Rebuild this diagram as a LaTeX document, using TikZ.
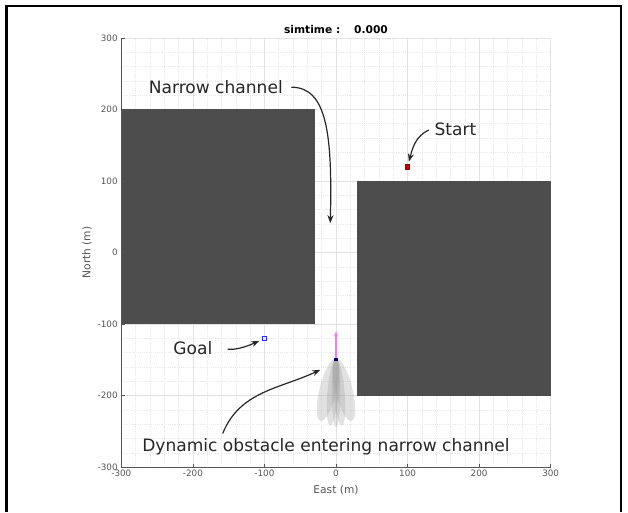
\documentclass[tikz,border=0pt]{standalone}
\usepackage{fontspec}
\setmainfont{DejaVu Sans}
\usetikzlibrary{arrows.meta, calc}

\definecolor{obst}{HTML}{4D4D4D}
\definecolor{gridmaj}{HTML}{E2E2E2}
\definecolor{gridmin}{HTML}{EAEAEA}
\definecolor{axisgray}{HTML}{555555}
\definecolor{heading}{HTML}{F07CF0}

\tikzset{
  note/.style={font=\fontsize{12.8}{15}\selectfont, text=black!85},
  ticklbl/.style={font=\fontsize{6.6}{8}\selectfont, text=axisgray},
  axlbl/.style={font=\fontsize{8}{10}\selectfont, text=axisgray},
  callout/.style={-{Stealth[length=6pt,width=4.5pt]}, line width=0.9pt, black!85},
}

\begin{document}
\begin{tikzpicture}[x=0.5366pt, y=0.5366pt]
  \useasboundingbox (-469.6,-362.7) rectangle (408.1,352.9);
  % outer frame, open at the bottom
  \draw[line width=1.8pt] (-460.5,-362.7) -- (-460.5,344.5) -- (398.3,344.5) -- (398.3,-362.7);

  % grid
  \draw[gridmin, densely dotted, line width=0.4pt] (-300,-300) grid[step=20] (300,300);
  \draw[gridmaj, line width=0.5pt] (-300,-300) grid[step=100] (300,300);

  % static obstacles
  \fill[obst] (-300,-100) rectangle (-30,200);
  \fill[obst] (30,-200) rectangle (300,100);

  % axes
  \draw[axisgray, line width=0.5pt] (-300,300) -- (-300,-300) -- (300,-300);
  \foreach \v in {-300,-200,...,300} {
    \draw[axisgray, line width=0.5pt] (\v,-300) -- ++(0,5);
    \draw[axisgray, line width=0.5pt] (-300,\v) -- ++(5,0);
    \node[ticklbl, below, inner sep=2pt] (xt\v) at (\v,-300) {\v};
    \node[ticklbl, left, inner sep=2.6pt] (yt\v) at (-300,\v) {\v};
  }
  \node[axlbl] (east) at (0,-332) {East (m)};
  \node[axlbl, rotate=90] (north) at (-348,0) {North (m)};
  \node[font=\bfseries\fontsize{8}{10}\selectfont] (title) at (0,311) {simtime :\hspace{1.3em}0.000};

  % start and goal
  \node[fill=red!80!black, draw=red!55!black, minimum size=3.2pt, inner sep=0pt] (start) at (100,120) {};
  \node[draw=blue!85, line width=0.6pt, minimum size=3.6pt, inner sep=0pt] (goal) at (-100,-120) {};

  % dynamic obstacle and its spread
  \foreach \a/\rx/\ry in {-14/12/45,14/12/45,-5/8/47,5/8/47,0/6/48}
    \fill[gray!75, opacity=0.3, rotate around={\a:(0,-148)}] (0,-148-\ry) ellipse [x radius=\rx, y radius=\ry];
  \node[fill=blue!45!black, minimum size=2.4pt, inner sep=0pt] (vessel) at (0,-150) {};
  \coordinate (vhead) at (0,-110);
  \draw[heading, line width=1.2pt, -{Stealth[length=4pt,width=3pt]}] (vessel) -- (vhead);

  % callouts
  \node[note] (chan) at (-168,231) {Narrow channel};
  \coordinate (chanpt) at (-8,41);
  \draw[callout, shorten <=3pt] (chan.east) .. controls +(55,0) and +(3,125) .. (chanpt);

  \node[note] (starttxt) at (167,172) {Start};
  \draw[callout, shorten <=1pt, shorten >=2pt] (starttxt.west) to[out=205, in=75] (start);

  \node[note] (goaltxt) at (-200,-133) {Goal};
  \draw[callout, shorten <=8pt, shorten >=2pt] (goaltxt.east) to[out=-8, in=205] (goal);

  \node[note] (dyntxt) at (-14,-271) {Dynamic obstacle entering narrow channel};
  \coordinate (dynpt) at (-22,-164);
  \draw[callout] ($(dyntxt.north west)!0.226!(dyntxt.north east)$) to[out=68, in=205] (dynpt);
\end{tikzpicture}
\end{document}
